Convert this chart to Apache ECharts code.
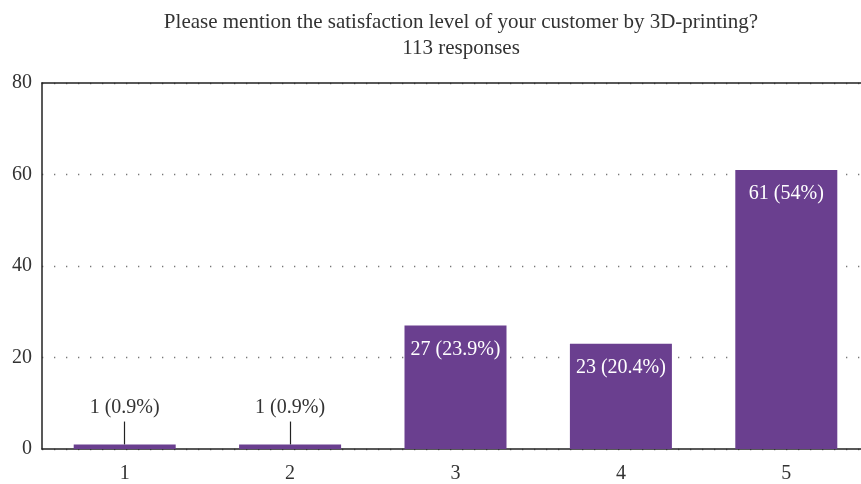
<!DOCTYPE html>
<html><head><meta charset="utf-8">
<script src="https://cdn.jsdelivr.net/npm/echarts@6/dist/echarts.min.js"></script>
<style>html,body{margin:0;padding:0;background:#fff;overflow:hidden;width:861px;height:484px}#c{width:869px;height:484px}</style>
</head><body><div id="c"></div>
<script>
const titleText = "Please mention the satisfaction level of your customer by 3D-printing?";
const subtitleText = "113 responses";
const categories = ["1", "2", "3", "4", "5"];
const counts = [1, 1, 27, 23, 61];
const percents = ["0.9%", "0.9%", "23.9%", "20.4%", "54%"];
const yTicks = [0, 20, 40, 60, 80];
const outsideLabelCats = [0, 1];
const leaderTop = 6;

const FONT = "'Liberation Serif', 'DejaVu Serif', serif";
const chart = echarts.init(document.getElementById('c'), null, {renderer: 'canvas'});

const barData = counts.map((v, i) => {
  const outside = outsideLabelCats.includes(i);
  return {
    value: v,
    label: outside ? {position: 'top', distance: 27, color: '#333'} : {position: 'insideTop', distance: 14, color: '#fff'}
  };
});

const leaderLines = outsideLabelCats.map(i => [
  {coord: [i, counts[i]]},
  {coord: [i, leaderTop]}
]);

chart.setOption({
  animation: false,
  title: {
    text: titleText + "\n" + subtitleText,
    left: 456, top: 4, textAlign: 'center',
    textStyle: {fontFamily: FONT, fontSize: 21, fontWeight: 'normal', color: '#333', lineHeight: 26}
  },
  grid: {left: 42, top: 83, right: 0, bottom: 34},
  xAxis: [{
    type: 'category', data: categories,
    axisLine: {lineStyle: {color: '#222', width: 1.5}},
    axisTick: {show: false},
    axisLabel: {fontFamily: FONT, fontSize: 20, color: '#333', margin: 15}
  }, {
    type: 'category', data: categories, position: 'top',
    axisLine: {lineStyle: {color: '#222', width: 1.5}},
    axisTick: {show: false}, axisLabel: {show: false}
  }],
  yAxis: {
    type: 'value', min: yTicks[0], max: yTicks[yTicks.length - 1], interval: 20,
    axisLine: {show: true, lineStyle: {color: '#222', width: 1.5}},
    axisTick: {show: false},
    axisLabel: {fontFamily: FONT, fontSize: 20, color: '#333', margin: 10},
    splitLine: {show: true, lineStyle: {color: '#777', width: 1.3, type: [1.3, 10.7]}}
  },
  series: [{
    type: 'bar', data: barData, barWidth: 102,
    itemStyle: {color: '#6a3f8f'},
    label: {
      show: true, fontFamily: FONT, fontSize: 20,
      formatter: p => p.value + ' (' + percents[p.dataIndex] + ')'
    },
    markLine: {
      silent: true, symbol: 'none', label: {show: false},
      lineStyle: {color: '#222', width: 1.2, type: 'solid'},
      data: leaderLines
    }
  }]
});
</script></body></html>
